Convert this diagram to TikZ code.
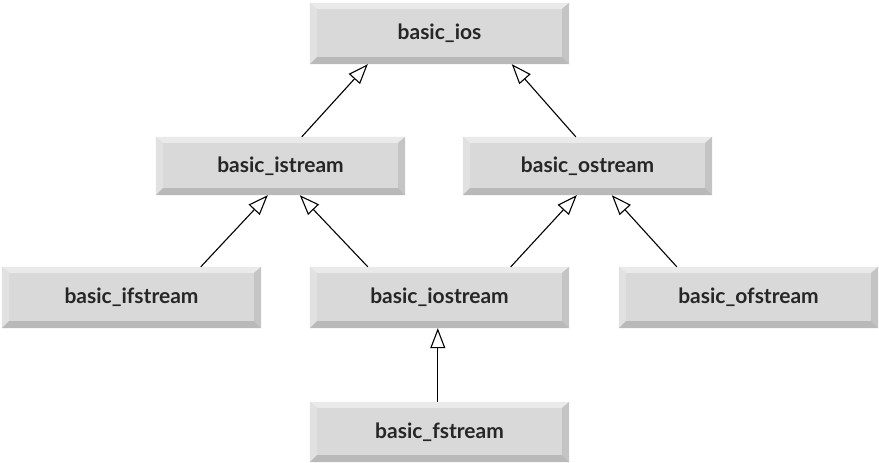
\documentclass[tikz,border=0pt]{standalone}
\usepackage{fontspec}
\setmainfont{Lato}
\usetikzlibrary{arrows.meta,calc,backgrounds}
\definecolor{facec}{HTML}{D9D9D9}
\definecolor{topc}{HTML}{EAEAEA}
\definecolor{leftc}{HTML}{E1E1E1}
\definecolor{rightc}{HTML}{C4C4C4}
\definecolor{botc}{HTML}{B9B9B9}
\newcommand\bevelize[1]{%
  \fill[facec] (#1.north west) rectangle (#1.south east);
  \fill[topc] (#1.north west) -- (#1.north east) -- ($(#1.north east)+(-7,6)$) -- ($(#1.north west)+(7,6)$) -- cycle;
  \fill[leftc] (#1.north west) -- ($(#1.north west)+(7,6)$) -- ($(#1.south west)+(7,-7)$) -- (#1.south west) -- cycle;
  \fill[rightc] (#1.north east) -- ($(#1.north east)+(-7,6)$) -- ($(#1.south east)+(-7,-7)$) -- (#1.south east) -- cycle;
  \fill[botc] (#1.south west) -- ($(#1.south west)+(7,-7)$) -- ($(#1.south east)+(-7,-7)$) -- (#1.south east) -- cycle;
}
\begin{document}
\begin{tikzpicture}[x=1pt,y={(0pt,-1pt)},
  box/.style={inner sep=0pt, minimum width=259, minimum height=61,
    font=\fontsize{21}{25}\selectfont\bfseries, text=black!85},
  inh/.style={draw=black, line width=1.1pt, -{Triangle[open, fill=white, length=20pt, width=15pt, line width=1.1pt]}}]
\useasboundingbox (0,0) rectangle (879,463);
\node[box] (ios) at (439.5,33.5) {basic\_ios};
\node[box, minimum width=249, minimum height=58] (istream) at (280.5,166) {basic\_istream};
\node[box, minimum width=249, minimum height=58] (ostream) at (587.5,166) {basic\_ostream};
\node[box] (ifstream) at (131.5,297.5) {basic\_ifstream};
\node[box] (iostream) at (439.5,297.5) {basic\_iostream};
\node[box] (ofstream) at (748.5,297.5) {basic\_ofstream};
\node[box, minimum height=60] (fstream) at (439.5,432) {basic\_fstream};
\begin{pgfonlayer}{background}
\bevelize{ios}\bevelize{istream}\bevelize{ostream}\bevelize{ifstream}\bevelize{iostream}\bevelize{ofstream}\bevelize{fstream}
\end{pgfonlayer}
\draw[inh] ($(istream.north west)+(146,0)$) -- ($(ios.south west)+(58,0)$);
\draw[inh] ($(ostream.north west)+(113,0)$) -- ($(ios.south west)+(202,0)$);
\draw[inh] ($(ifstream.north west)+(199,0)$) -- ($(istream.south west)+(112,0)$);
\draw[inh] ($(iostream.north west)+(58,0)$) -- ($(istream.south west)+(144,0)$);
\draw[inh] ($(iostream.north west)+(201,0)$) -- ($(ostream.south west)+(114,0)$);
\draw[inh] ($(ofstream.north west)+(58,0)$) -- ($(ostream.south west)+(149,0)$);
\draw[inh] ($(fstream.north west)+(128,0)$) -- ($(iostream.south west)+(128,0)$);
\end{tikzpicture}
\end{document}
